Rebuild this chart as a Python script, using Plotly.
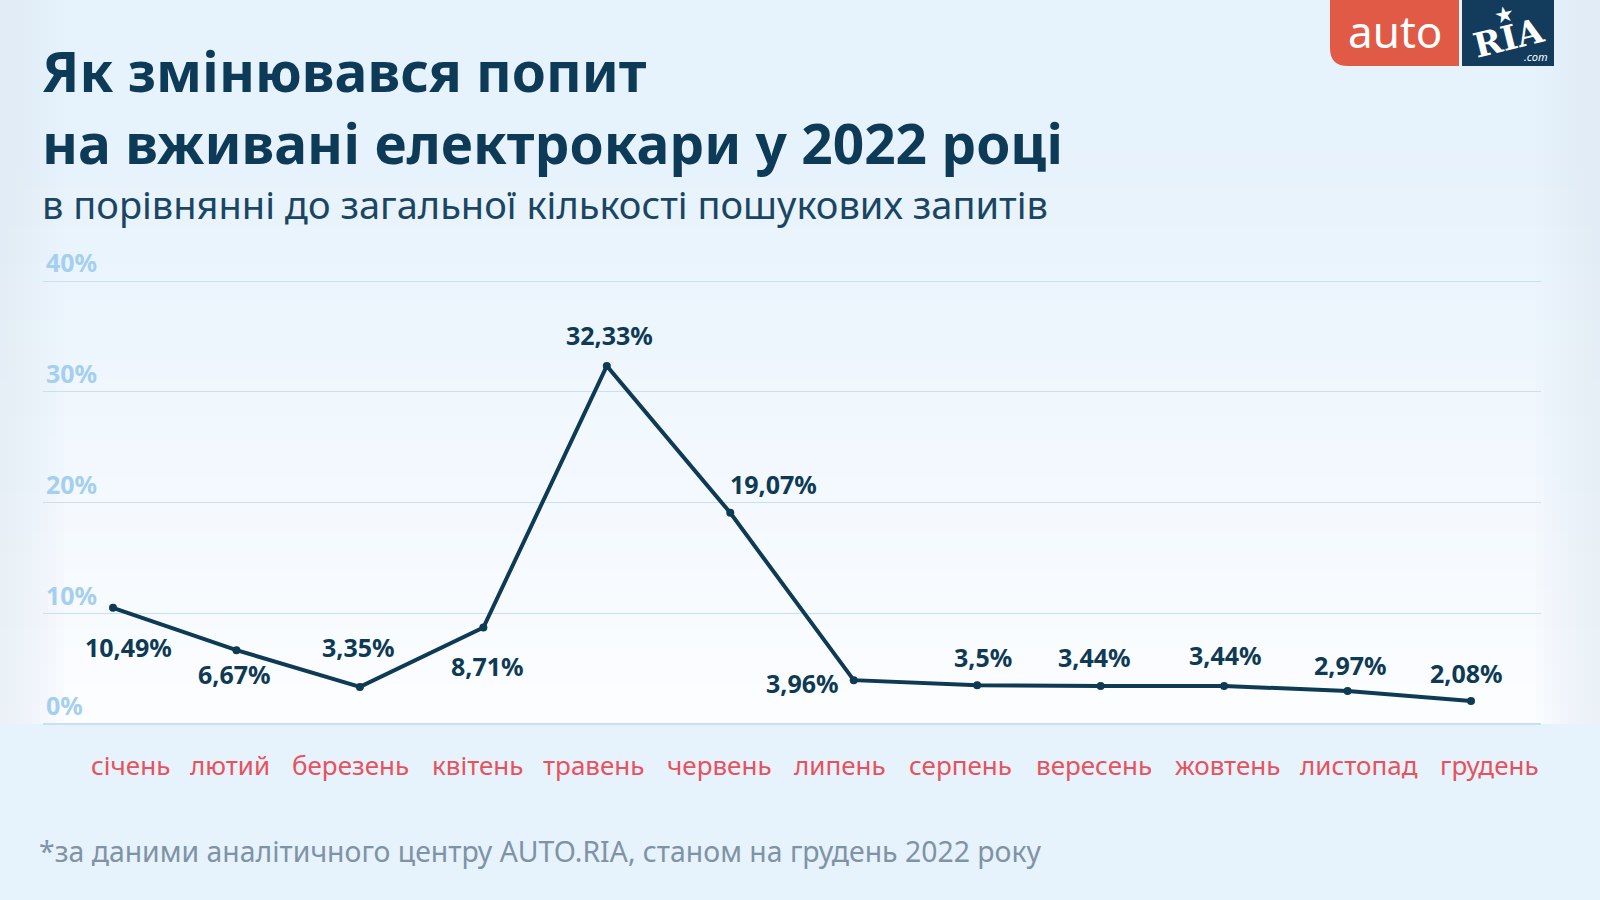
import plotly.graph_objects as go

months = ["січень", "лютий", "березень", "квітень", "травень", "червень",
          "липень", "серпень", "вересень", "жовтень", "листопад", "грудень"]
values = [10.49, 6.67, 3.35, 8.71, 32.33, 19.07, 3.96, 3.5, 3.44, 3.44, 2.97, 2.08]
y_ticks = [0, 10, 20, 30, 40]
y_tick_labels = ["0%", "10%", "20%", "30%", "40%"]
# label offsets (pixels) relative to each point
label_dx = [15, -2, -1, 4, 3, 43, -51, 6, -6, 1, 3, -5]
label_dy = [-39, -24, 40, -38, 31, 29, -3, 28, 29, 31, 26, 28]
# month label offsets (pixels) relative to category centre
month_dx = [17, -6, -9, -6, -13, -11, -14, -17, -7, 3, 11, 18]

W, H = 1600, 900
L, R, T, B = 43, 59, 236, 176
PW, PH = W - L - R, H - T - B
PX_PER_UNIT = 11.075


def px(x):
    return (x - L) / PW


def py(y):
    return (H - B - y) / PH


TITLE_C = "#0D3A57"
LINE_C = "#0E3A54"
GRID_C = "#C9E0F2"
TICK_C = "#A5CFEF"
MONTH_C = "#E7525C"
FONT = "Noto Sans"
PAPER = (230, 242, 252)

fig = go.Figure()
fig.add_trace(go.Scatter(
    x=months, y=values, mode="lines+markers",
    line=dict(color=LINE_C, width=4),
    marker=dict(color=LINE_C, size=8),
    hoverinfo="skip", showlegend=False,
))

annotations = []
for m, v, dx, dy in zip(months, values, label_dx, label_dy):
    annotations.append(dict(
        x=m, y=v, xref="x", yref="y", text=f"{v}%".replace(".", ","),
        showarrow=False, xshift=dx, yshift=dy,
        font=dict(family=FONT, size=25, color=LINE_C, weight="bold"),
    ))
for m, dx in zip(months, month_dx):
    annotations.append(dict(
        x=m, y=0, xref="x", yref="y", text=m, showarrow=False,
        xshift=dx, yshift=-41, yanchor="middle",
        font=dict(family=FONT, size=26, color=MONTH_C),
    ))

# titles
annotations += [
    dict(x=px(40), y=py(106), xref="paper", yref="paper", xanchor="left", yanchor="middle",
         align="left",
         text="<b>Як змінювався попит</b><br><b>на вживані електрокари у 2022 році</b>",
         showarrow=False, font=dict(family=FONT, size=55, color=TITLE_C)),
    dict(x=px(40), y=py(204), xref="paper", yref="paper", xanchor="left", yanchor="middle",
         text="в порівнянні до загальної кількості пошукових запитів", showarrow=False,
         font=dict(family=FONT, size=38, color="#1A4563")),
    dict(x=px(37), y=py(851), xref="paper", yref="paper", xanchor="left", yanchor="middle",
         text="*за даними аналітичного центру AUTO.RIA, станом на грудень 2022 року",
         showarrow=False, font=dict(family=FONT, size=28.4, color="#8093A5")),
    # logo text
    dict(x=px(1395), y=py(31), xref="paper", yref="paper", xanchor="center", yanchor="middle",
         text="auto", showarrow=False, font=dict(family=FONT, size=44, color="white")),
    dict(x=px(1508), y=py(38), xref="paper", yref="paper", xanchor="center", yanchor="middle",
         text="<b>RIA</b>", showarrow=False, textangle=-14,
         font=dict(family="DejaVu Serif", size=34, color="white")),
    dict(x=px(1504), y=py(14), xref="paper", yref="paper", xanchor="center", yanchor="middle",
         text="★", showarrow=False, textangle=-12,
         font=dict(family="DejaVu Sans", size=22, color="white")),
    dict(x=px(1536), y=py(57), xref="paper", yref="paper", xanchor="center", yanchor="middle",
         text="<i>.com</i>", showarrow=False,
         font=dict(family=FONT, size=11, color="white")),
]

shapes = []
# background gradient bands (light blue at top -> almost white near the baseline)
n = 30
top_y, bot_y = 150, 724
bot_rgb = (252, 253, 255)
for i in range(n):
    t = (i + 1) / n
    c = tuple(int(round(PAPER[k] + (bot_rgb[k] - PAPER[k]) * t)) for k in range(3))
    ya = top_y + (bot_y - top_y) * i / n
    yb = top_y + (bot_y - top_y) * (i + 1) / n
    shapes.append(dict(type="rect", xref="paper", yref="paper", x0=px(0), x1=px(W),
                       y0=py(yb), y1=py(ya) + 0.002, fillcolor="rgb(%d,%d,%d)" % c,
                       line=dict(width=0), layer="below"))
# soft bluish tint at the left and right edges
for i in range(8):
    a = 0.10
    shapes.append(dict(type="rect", xref="paper", yref="paper", x0=px(0), x1=px(8 + i * 8),
                       y0=py(bot_y), y1=py(0), fillcolor=f"rgba(222,237,250,{a})",
                       line=dict(width=0), layer="below"))
    shapes.append(dict(type="rect", xref="paper", yref="paper", x0=px(W - 8 - i * 8), x1=px(W),
                       y0=py(bot_y), y1=py(0), fillcolor=f"rgba(222,237,250,{a})",
                       line=dict(width=0), layer="below"))
# logo shapes
ox0, ox1, oy1 = 1330, 1459, 66
r = 18
shapes.append(dict(type="path", xref="paper", yref="paper",
                   path=(f"M {px(ox0)},{py(0)} L {px(ox1)},{py(0)} L {px(ox1)},{py(oy1)} "
                         f"L {px(ox0 + r)},{py(oy1)} Q {px(ox0)},{py(oy1)} {px(ox0)},{py(oy1 - r)} Z"),
                   fillcolor="#E05A45", line=dict(width=0), layer="above"))
shapes.append(dict(type="rect", xref="paper", yref="paper",
                   x0=px(1462), x1=px(1554), y0=py(oy1), y1=py(0),
                   fillcolor="#123B5C", line=dict(width=0), layer="above"))

fig.update_layout(
    width=W, height=H,
    margin=dict(l=L, r=R, t=T, b=B),
    paper_bgcolor="rgb(%d,%d,%d)" % PAPER,
    plot_bgcolor="rgba(0,0,0,0)",
    showlegend=False,
    annotations=annotations,
    shapes=shapes,
    xaxis=dict(
        type="category", range=[-0.567, 11.567],
        showgrid=False, zeroline=False, showline=False, ticks="",
        showticklabels=False, fixedrange=True,
    ),
    yaxis=dict(
        range=[0, PH / PX_PER_UNIT], tickvals=y_ticks, ticktext=y_tick_labels,
        showgrid=True, gridcolor=GRID_C, gridwidth=1.2,
        zeroline=True, zerolinecolor=GRID_C, zerolinewidth=1.5,
        showline=False, ticks="",
        ticklabelposition="inside top",
        tickfont=dict(family=FONT, size=25, color=TICK_C, weight="bold"),
        fixedrange=True,
    ),
)

fig.write_html("out.html", config={"displayModeBar": False},
               post_script="document.body.style.margin='0';document.body.style.overflow='hidden';")
